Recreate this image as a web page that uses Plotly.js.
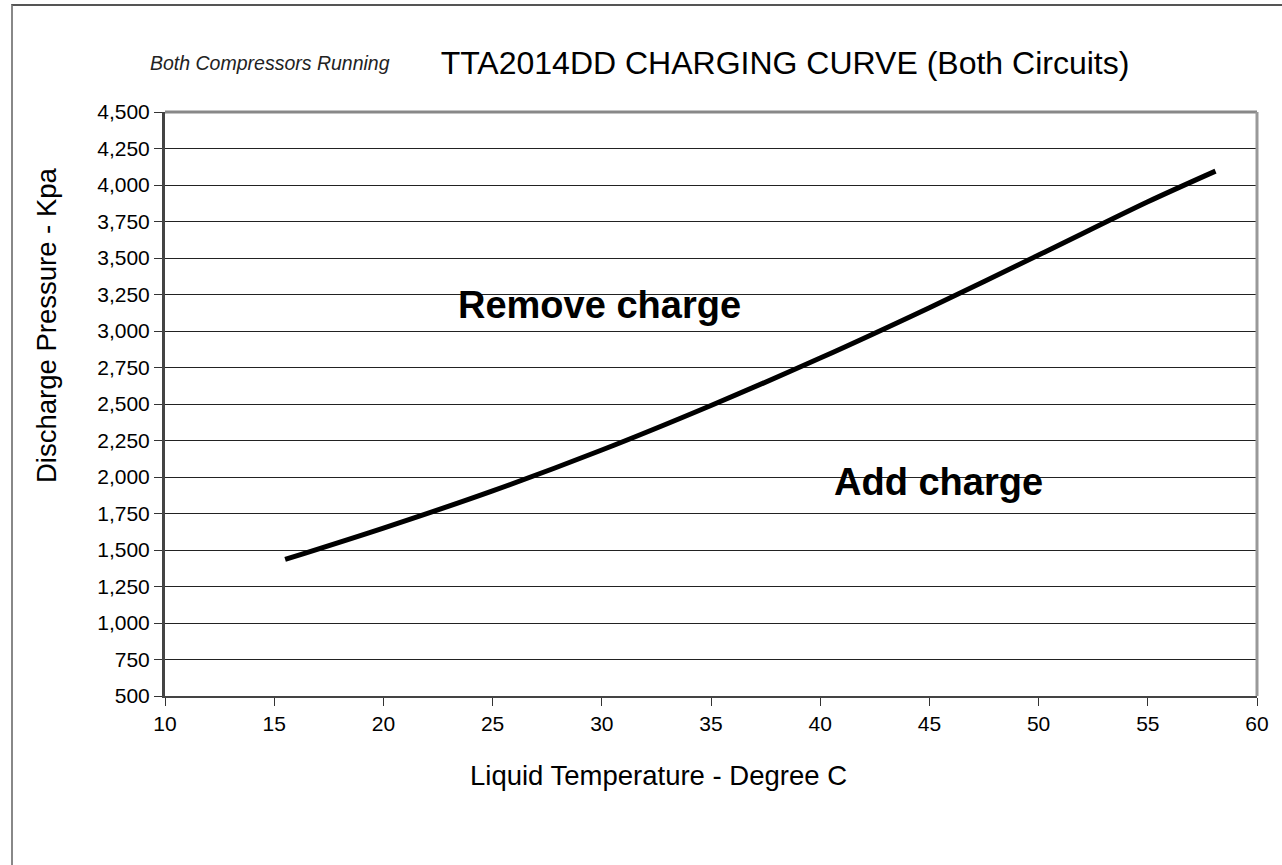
<!DOCTYPE html>
<html>
<head>
<meta charset="utf-8">
<script src="https://cdn.plot.ly/plotly-3.0.1.min.js"></script>
<style>
  html, body { margin: 0; padding: 0; background: #fff; }
  #wrap { position: relative; width: 1282px; height: 865px; overflow: hidden; }
  #frame { position: absolute; left: 11px; top: 4px; width: 1300px; height: 900px;
           border-left: 2px solid #888; border-top: 2px solid #555; box-sizing: border-box; pointer-events: none; }
  #chart { position: absolute; left: 0; top: 0; width: 1282px; height: 865px; }
</style>
</head>
<body>
<div id="wrap">
  <div id="chart"></div>
  <div id="frame"></div>
</div>
<script>
// Charging curve
const liquidTempC = [15.5, 20, 25, 30, 35, 40, 45, 50, 55, 58.1];
const dischargeKpa = [1435, 1650, 1905, 2185, 2490, 2815, 3160, 3520, 3885, 4095];

const xTicks = [10, 15, 20, 25, 30, 35, 40, 45, 50, 55, 60];
const yTicks = [500, 750, 1000, 1250, 1500, 1750, 2000, 2250, 2500, 2750, 3000, 3250, 3500, 3750, 4000, 4250, 4500];

const chartTitle = 'TTA2014DD CHARGING CURVE (Both Circuits)';
const subTitle = 'Both Compressors Running';
const xTitle = 'Liquid Temperature - Degree C';
const yTitle = 'Discharge Pressure - Kpa';
const regionLabels = ['Remove charge', 'Add charge'];
const regionX = [29.9, 45.4];
const regionY = [3180, 1965];

const FONT = 'Liberation Sans, Arial, sans-serif';

const trace = {
  x: liquidTempC,
  y: dischargeKpa,
  type: 'scatter',
  mode: 'lines',
  line: { color: '#000', width: 5, shape: 'spline', smoothing: 0.8 },
  hoverinfo: 'x+y'
};

const layout = {
  width: 1282,
  height: 865,
  margin: { l: 165, r: 25, t: 112, b: 169 },
  paper_bgcolor: '#fff',
  plot_bgcolor: '#fff',
  showlegend: false,
  font: { family: FONT, color: '#000', size: 21 },
  title: {
    text: chartTitle,
    font: { family: FONT, size: 32, color: '#000' },
    xref: 'container', yref: 'container',
    x: 785 / 1282, xanchor: 'center',
    y: 1 - 63 / 865, yanchor: 'middle'
  },
  xaxis: {
    range: [10, 60],
    tickvals: xTicks,
    ticktext: xTicks.map(String),
    ticks: 'outside', ticklen: 8, tickcolor: '#333', tickwidth: 1,
    showgrid: false,
    showline: true, linecolor: '#444', linewidth: 2,
    mirror: false,
    zeroline: false,
    tickfont: { family: FONT, size: 21, color: '#000' },
    fixedrange: true
  },
  yaxis: {
    range: [500, 4500],
    tickvals: yTicks,
    ticktext: yTicks.map(v => v.toLocaleString('en-US')),
    ticks: 'outside', ticklen: 8, tickcolor: '#333', tickwidth: 1,
    showgrid: true, gridcolor: '#222', gridwidth: 1,
    showline: true, linecolor: '#444', linewidth: 3,
    zeroline: false,
    tickfont: { family: FONT, size: 21, color: '#000' },
    fixedrange: true
  },
  shapes: [
    { type: 'line', xref: 'paper', yref: 'paper', x0: 0, x1: 1, y0: 1, y1: 1,
      line: { color: '#888', width: 3 } },
    { type: 'line', xref: 'paper', yref: 'paper', x0: 1, x1: 1, y0: 0, y1: 1,
      line: { color: '#999', width: 3 } }
  ],
  annotations: [
    { text: '<i>' + subTitle + '</i>', xref: 'paper', yref: 'paper',
      x: (148 - 165) / 1092, y: 1 + (112 - 63) / 584, xanchor: 'left', yanchor: 'middle',
      showarrow: false, font: { family: FONT, size: 19.5, color: '#222' } },
    { text: xTitle, xref: 'paper', yref: 'paper',
      x: (658 - 165) / 1092, y: -(775 - 696) / 584, xanchor: 'center', yanchor: 'middle',
      showarrow: false, font: { family: FONT, size: 27.5, color: '#000' } },
    { text: yTitle, xref: 'paper', yref: 'paper', textangle: -90,
      x: -(165 - 46) / 1092, y: (696 - 325) / 584, xanchor: 'center', yanchor: 'middle',
      showarrow: false, font: { family: FONT, size: 27.5, color: '#000' } },
    { text: '<b>' + regionLabels[0] + '</b>', x: regionX[0], y: regionY[0], xref: 'x', yref: 'y',
      showarrow: false, font: { family: FONT, size: 38, color: '#000' } },
    { text: '<b>' + regionLabels[1] + '</b>', x: regionX[1], y: regionY[1], xref: 'x', yref: 'y',
      showarrow: false, font: { family: FONT, size: 38, color: '#000' } }
  ]
};

Plotly.newPlot('chart', [trace], layout, { staticPlot: true, displayModeBar: false });
</script>
</body>
</html>
